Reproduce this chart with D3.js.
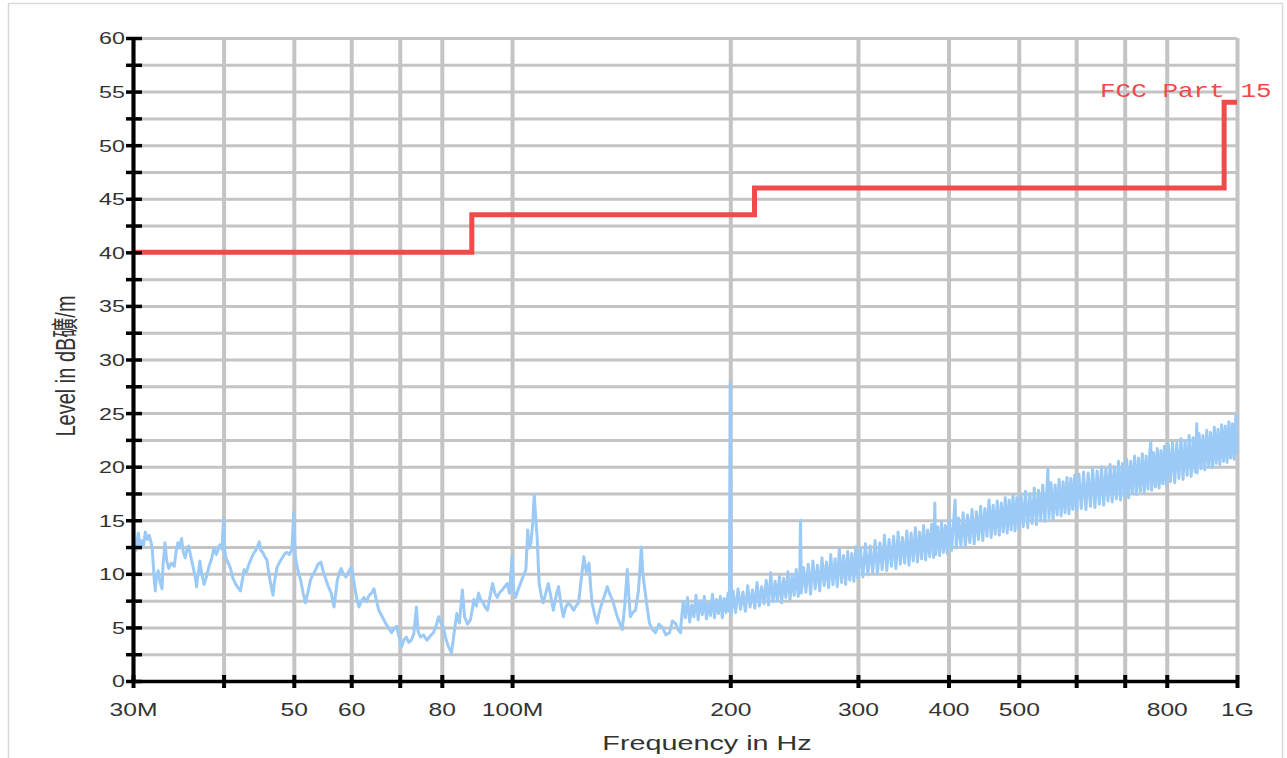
<!DOCTYPE html>
<html>
<head>
<meta charset="utf-8">
<script src="https://cdn.jsdelivr.net/npm/d3@7"></script>
<style>
  body { margin: 0; background: #fff; }
  svg { display: block; }
  text { font-family: "Liberation Sans", Arial, "Noto Sans CJK SC", sans-serif; }
</style>
</head>
<body>
<svg id="chart" width="1287" height="758"></svg>
<script>
// axis ticks (MHz / dB)
const xTicks = [30, 40, 50, 60, 70, 80, 100, 200, 300, 400, 500, 600, 700, 800, 1000];
const xTickLabels = {30: "30M", 50: "50", 60: "60", 80: "80", 100: "100M", 200: "200",
                     300: "300", 400: "400", 500: "500", 800: "800", 1000: "1G"};
const yTicks = [0, 2.5, 5, 7.5, 10, 12.5, 15, 17.5, 20, 22.5, 25, 27.5, 30, 32.5, 35,
                37.5, 40, 42.5, 45, 47.5, 50, 52.5, 55, 57.5, 60];

// FCC Part 15 limit line
const limitFreq  = [30, 88, 88, 216, 216, 960, 960, 1000];
const limitLevel = [40, 40, 43.5, 43.5, 46, 46, 54, 54];

const scanLow = [
  [30.0,10.8],[30.1,13.0],[30.3,12.2],[30.5,13.8],[30.7,12.4],[30.8,13.1],[31.0,12.6],[31.2,13.9],[31.4,13.2],[31.6,13.6],
  [31.8,12.8],[31.9,12.2],[32.1,9.4],[32.2,8.4],[32.3,9.6],[32.5,10.3],[32.7,9.2],[32.9,8.6],[33.0,10.8],[33.2,12.9],
  [33.4,11.2],[33.6,10.5],[33.9,11.0],[34.2,10.7],[34.4,12.1],[34.6,12.9],[34.8,12.4],[35.0,13.3],[35.2,12.0],[35.4,11.5],
  [35.6,12.2],[35.8,12.6],[36.1,11.4],[36.4,10.3],[36.6,9.5],[36.7,8.8],[36.9,10.0],[37.1,11.2],[37.3,10.1],[37.6,9.0],
  [37.9,9.8],[38.2,10.7],[38.5,11.4],[38.8,12.4],[39.1,11.8],[39.5,12.7],[39.8,12.3],[40.0,15.2],[40.1,12.4],[40.3,11.5],
  [40.6,11.0],[40.9,10.5],[41.2,9.6],[41.6,9.0],[41.9,8.7],[42.2,8.4],[42.5,9.6],[42.7,10.4],[43.0,10.1],[43.3,10.8],
  [43.6,11.3],[44.0,11.9],[44.4,12.3],[44.8,13.0],[45.0,12.2],[45.3,12.0],[45.6,11.6],[45.9,11.3],[46.1,10.4],[46.3,9.6],
  [46.6,8.6],[46.8,8.0],[47.0,9.2],[47.4,10.6],[47.8,11.1],[48.2,11.5],[48.6,11.9],[48.9,12.0],[49.3,11.8],[49.7,12.3],
  [50.0,15.8],[50.2,12.0],[50.4,11.0],[50.8,10.0],[51.1,9.4],[51.5,8.2],[51.9,7.3],[52.3,8.3],[52.7,9.4],[53.1,9.9],
  [53.6,10.4],[54.0,10.9],[54.5,11.1],[54.9,10.2],[55.4,9.4],[55.8,8.8],[56.3,8.2],[56.8,6.9],[57.1,8.1],[57.4,9.4],
  [57.8,10.1],[58.1,10.5],[58.5,10.0],[59.0,9.7],[59.5,10.2],[60.0,10.6],[60.3,9.9],[60.6,9.0],[61.0,7.8],[61.5,6.9],
  [62.0,7.5],[62.5,7.8],[63.0,7.4],[63.5,8.0],[64.0,8.2],[64.5,8.6],[65.0,7.5],[65.5,6.6],[66.2,6.0],[66.9,5.4],
  [67.5,5.0],[68.2,4.5],[68.8,4.9],[69.3,5.1],[69.8,4.2],[70.4,3.2],[71.0,3.9],[71.5,4.1],[72.0,3.6],[72.6,3.8],
  [73.2,4.4],[73.8,6.9],[74.2,4.6],[74.8,4.1],[75.5,4.3],[76.3,3.8],[77.1,4.2],[77.9,4.5],[78.6,5.2],[79.2,6.0],
  [79.8,5.4],[80.4,5.0],[81.0,4.0],[81.7,3.2],[82.5,2.6],[83.2,4.5],[83.9,6.3],[84.6,5.4],[85.4,8.5],[86.0,6.0],
  [86.8,5.3],[87.6,5.7],[88.1,6.6],[88.6,7.6],[89.3,7.0],[89.9,8.2],[90.5,7.6],[91.2,7.3],[91.8,6.9],[92.5,6.6],
  [93.2,7.8],[94.0,9.1],[94.7,8.2],[95.4,7.8],[96.2,8.3],[97.0,8.5],[97.7,8.8],[98.5,9.1],[99.2,8.2],[100.0,11.6],
  [100.5,8.4],[101.1,7.8],[101.9,8.5],[102.7,9.1],[103.6,9.8],[104.5,10.4],[105.1,14.1],[105.6,12.4],[106.2,12.9],[106.8,14.8],
  [107.3,17.4],[107.8,15.2],[108.3,13.4],[108.7,10.8],[109.0,9.1],[109.7,8.0],[110.4,7.3],[111.3,8.2],[112.2,9.1],[113.1,7.9],
  [114.0,6.6],[114.9,7.8],[115.9,8.8],[116.8,7.2],[117.7,6.0],[118.6,6.9],[119.6,7.3],[120.6,7.0],[121.6,6.6],[122.5,7.0],
  [123.5,7.3],[124.6,9.5],[125.6,11.6],[126.6,10.2],[127.7,11.0],[128.3,9.0],[128.9,7.3],[130.0,6.2],[131.0,5.4],[132.0,6.5],
  [133.1,7.3],[134.2,8.0],[135.3,8.8],[136.4,8.1],[137.5,7.6],[138.6,6.8],[139.7,6.0],[140.8,5.4],[141.9,4.8],[143.0,7.0],
  [144.2,10.4],[144.9,8.0],[145.6,6.0],[146.8,6.4],[148.0,6.6],[149.4,8.4],[150.8,12.5],[151.5,10.0],[152.3,8.8],[153.5,7.0],
  [154.7,5.4],[156.2,4.8],[157.7,4.5],[159.4,5.3],[161.2,5.0],[163.0,4.3],[164.9,4.5],[166.4,5.6],[168.0,5.4],[169.4,4.8],
  [170.8,4.5]
];

const scanHigh = [
  [171.0,5.2],[172.2,7.4],[173.4,5.9],[174.6,7.8],[175.8,5.5],[177.0,7.1],[178.2,6.0],[179.4,8.0],[180.6,5.7],[181.8,7.5],
  [183.0,6.2],[184.2,7.9],[185.4,5.8],[186.6,7.3],[187.8,6.1],[189.0,8.1],[190.2,5.9],[191.4,7.6],[192.6,6.3],[193.8,7.9],
  [195.0,5.9],[196.2,7.7],[197.4,6.4],[198.6,8.2],[199.4,6.5],[200.0,27.8],[200.6,6.2],
  [201.8,8.4],[203.4,6.4],[205.0,8.6],[206.6,6.7],[208.2,8.3],[209.8,6.5],[211.4,8.9],[213.0,6.9],[214.6,8.5],[216.2,6.8],
  [217.8,9.2],[219.4,7.0],[221.0,8.8],[222.6,7.2],[224.2,9.4],[225.8,7.1],[227.4,10.1],[229.0,7.4],[230.6,9.3],[232.2,7.5],
  [233.8,9.8],[235.4,7.3],[237.0,9.6],[238.6,7.8],[240.2,10.2],[241.8,7.6],[243.4,9.9],[245.0,8.0],[246.6,10.4],[248.2,7.9],
  [249.4,10.0],[250.0,15.0],[250.6,8.2],
  [252.4,10.6],[254.3,8.3],[256.2,10.9],[258.1,8.1],[260.0,11.2],[261.9,8.6],[263.8,10.8],[265.7,8.4],[267.6,11.5],[269.5,8.9],
  [271.4,11.1],[273.3,8.7],[275.2,11.8],[277.1,9.0],[279.0,11.4],[280.9,8.8],[282.8,12.3],[284.7,9.2],[286.6,11.7],[288.5,9.0],
  [290.4,12.1],[292.3,9.4],[294.2,11.9],[296.1,9.3],[298.0,12.5],[299.9,9.6],
  [302.4,12.4],[304.8,9.7],[307.2,12.8],[309.6,9.9],[312.0,12.6],[314.4,10.1],[316.8,13.1],[319.2,10.0],[321.6,12.9],[324.0,10.4],
  [326.4,13.6],[328.8,10.3],[331.2,13.2],[333.6,10.7],[336.0,13.5],[338.4,10.5],[340.8,13.9],[343.2,10.9],[345.6,13.4],[348.0,11.0],
  [350.4,14.0],[352.8,10.8],[355.2,13.8],[357.6,11.2],[360.0,14.3],[362.4,11.1],[364.8,13.9],[367.2,11.4],[369.6,14.5],[372.0,11.3],
  [374.4,14.1],[376.8,11.6],[379.2,14.6],[381.6,11.5],[383.0,16.6],[384.0,11.8],[386.4,14.4],[388.8,11.7],[391.2,14.8],[393.6,12.0],
  [396.0,14.5],[398.4,11.9],
  [401.0,15.1],[404.0,12.2],[407.0,15.4],[408.5,16.9],[410.0,12.4],[413.0,15.2],[416.0,12.6],[419.0,15.7],[422.0,12.5],[425.0,15.5],
  [428.0,12.9],[431.0,16.0],[434.0,12.8],[437.0,15.8],[440.0,13.2],[443.0,16.3],[446.0,13.1],[449.0,16.1],[452.0,13.5],[455.0,16.9],
  [458.0,13.4],[461.0,16.4],[464.0,13.7],[467.0,16.8],[470.0,13.6],[473.0,16.6],[476.0,13.9],[479.0,17.1],[482.0,13.8],[485.0,16.9],
  [488.0,14.1],[491.0,17.3],[494.0,14.0],[497.0,17.1],
  [500.0,14.2],[503.6,17.4],[507.2,14.4],[510.8,17.7],[514.4,14.3],[518.0,17.5],[521.6,14.7],[525.2,18.0],[528.8,14.6],[532.4,17.8],
  [536.0,15.0],[539.6,18.3],[543.2,14.9],[546.8,18.1],[548.5,19.8],[550.4,15.2],[554.0,18.5],[557.6,15.1],[561.2,18.3],[564.8,15.5],
  [568.4,18.8],[572.0,15.4],[575.6,18.6],[579.2,15.7],[582.8,19.0],[586.4,15.6],[590.0,18.9],[593.6,16.0],[597.2,19.2],
  [600.8,15.9],[605.3,19.3],[609.8,16.1],[614.3,19.5],[618.8,16.0],[623.3,19.4],[627.8,16.3],[632.3,19.8],[636.8,16.2],[641.3,19.6],
  [645.8,16.5],[650.3,20.0],[654.8,16.4],[659.3,19.8],[663.8,16.8],[668.3,20.2],[672.8,16.7],[677.3,20.0],[681.8,17.0],[686.3,20.5],
  [690.8,16.9],[695.3,20.3],[699.8,17.2],[704.3,20.7],[708.8,17.1],[713.3,20.5],[717.8,17.5],[722.3,21.0],[726.8,17.4],[731.3,20.8],
  [735.8,17.7],[740.3,21.2],[744.8,17.6],[749.3,21.0],[753.8,17.9],[758.3,21.5],[760.5,22.3],[762.8,17.8],[767.3,21.3],[771.8,18.1],
  [776.3,21.7],[780.8,18.0],[785.3,21.5],[789.8,18.4],[794.3,21.9],[798.8,18.3],
  [804.0,22.1],[809.5,18.6],[815.0,22.3],[820.5,18.5],[826.0,22.2],[831.5,18.9],[837.0,22.6],[842.5,18.8],[848.0,22.4],[853.5,19.2],
  [859.0,22.9],[864.5,19.1],[870.0,22.7],[875.5,19.5],[880.0,24.0],[881.0,19.4],[886.5,23.1],[892.0,19.8],[897.5,22.9],[903.0,19.7],
  [908.5,23.4],[914.0,20.0],[919.5,23.2],[925.0,19.9],[930.5,23.7],[936.0,20.3],[941.5,23.5],[947.0,20.2],[952.5,23.9],[958.0,20.5],
  [963.5,23.8],[969.0,20.4],[974.5,24.2],[980.0,20.8],[985.5,24.0],[991.0,20.7],[996.5,24.8],[1000.0,21.2]
];

const SX = 1.37; // the original picture is stretched horizontally

const svg = d3.select("#chart");
const x = d3.scaleLog().domain([30, 1000]).range([133, 1237]);
const y = d3.scaleLinear().domain([0, 60]).range([681, 38]);

// outer frame
svg.append("rect")
    .attr("x", 8.5).attr("y", 3.5)
    .attr("width", 1274).attr("height", 800)
    .attr("fill", "none")
    .attr("stroke", "#d9d9d9")
    .attr("stroke-width", 1.5);

// grid
svg.append("g")
    .attr("transform", `translate(0,${y(0)})`)
    .call(d3.axisBottom(x).tickValues(xTicks).tickFormat("").tickSize(-(y(0) - y(60))).tickSizeOuter(0))
    .call(g => g.select(".domain").remove())
    .call(g => g.selectAll("line").attr("stroke", "#c4c4c4").attr("stroke-width", 4));

svg.append("g")
    .attr("transform", `translate(${x(30)},0)`)
    .call(d3.axisLeft(y).tickValues(yTicks).tickFormat("").tickSize(-(x(1000) - x(30))).tickSizeOuter(0))
    .call(g => g.select(".domain").remove())
    .call(g => g.selectAll("line").attr("stroke", "#c4c4c4").attr("stroke-width", 3));

// limit line
const limitLine = d3.line().x(d => x(d[0])).y(d => y(d[1]));
svg.append("path")
    .datum(d3.zip(limitFreq, limitLevel))
    .attr("d", limitLine)
    .attr("fill", "none")
    .attr("stroke", "#f04a4a")
    .attr("stroke-width", 5)
    .attr("stroke-linejoin", "miter");

// scan trace
const traceLine = d3.line().x(d => x(d[0])).y(d => y(d[1]));
svg.append("path")
    .datum(scanLow.concat(scanHigh))
    .attr("d", traceLine)
    .attr("fill", "none")
    .attr("stroke", "#9ccaf7")
    .attr("stroke-width", 3)
    .attr("stroke-linejoin", "round");

// y axis
svg.append("g")
    .attr("transform", `translate(${x(30)},0)`)
    .call(d3.axisLeft(y).tickValues(yTicks).tickSizeOuter(0)
        .tickFormat(d => d % 5 === 0 ? d : ""))
    .call(g => g.select(".domain").attr("stroke", "#000").attr("stroke-width", 4))
    .call(g => g.selectAll(".tick line").attr("x1", 9).attr("x2", -7)
        .attr("stroke", "#000").attr("stroke-width", 3.5))
    .call(g => g.selectAll(".tick text")
        .attr("x", 0).attr("dy", "0.35em")
        .attr("transform", `translate(-8,0) scale(${SX},1)`)
        .attr("fill", "#333").attr("font-size", 17));

// x axis
svg.append("g")
    .attr("transform", `translate(0,${y(0)})`)
    .call(d3.axisBottom(x).tickValues(xTicks).tickSizeOuter(0)
        .tickFormat(d => xTickLabels[d] || ""))
    .call(g => g.select(".domain").attr("stroke", "#000").attr("stroke-width", 3.5))
    .call(g => g.selectAll(".tick line").attr("y1", -6).attr("y2", 7)
        .attr("stroke", "#000").attr("stroke-width", 4))
    .call(g => g.selectAll(".tick text")
        .attr("y", 0).attr("dy", 0)
        .attr("transform", `translate(0,35) scale(${SX},1)`)
        .attr("fill", "#333").attr("font-size", 18));

// titles
svg.append("text")
    .attr("transform", `translate(707,750) scale(${SX},1)`)
    .attr("text-anchor", "middle")
    .attr("font-size", 21)
    .attr("fill", "#333")
    .text("Frequency in Hz");

svg.append("text")
    .attr("transform", `translate(75,366) scale(${SX},1) rotate(-90)`)
    .attr("text-anchor", "middle")
    .attr("font-size", 20)
    .attr("fill", "#333")
    .text("Level in dB礦/m");

svg.append("text")
    .attr("transform", `translate(1100,97) scale(1.3,1)`)
    .style("font-family", "'Liberation Mono', 'DejaVu Sans Mono', monospace")
    .attr("font-size", 20)
    .attr("fill", "#f04a4a")
    .text("FCC Part 15");
</script>
</body>
</html>
